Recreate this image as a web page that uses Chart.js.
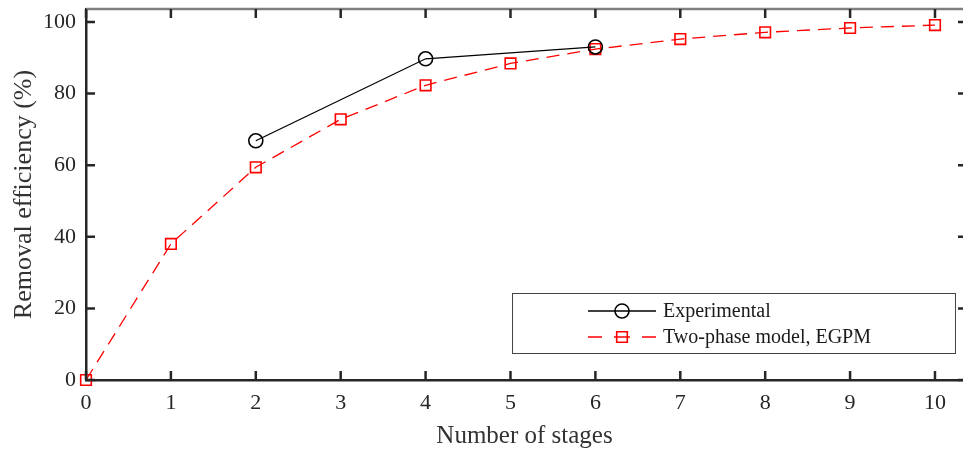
<!DOCTYPE html>
<html>
<head>
<meta charset="utf-8">
<script src="https://cdn.jsdelivr.net/npm/chart.js@4"></script>
<style>
  html, body { margin: 0; padding: 0; background: #fff; }
  #wrap { width: 963px; height: 451px; }
</style>
</head>
<body>
<div id="wrap"><canvas id="effChart" width="963" height="451"></canvas></div>
<script>
// stages and removal efficiencies
const expStages = [2, 4, 6];
const expValues = [66.8, 89.7, 93.0];
const modelStages = [0, 1, 2, 3, 4, 5, 6, 7, 8, 9, 10];
const modelValues = [0, 38.0, 59.4, 72.8, 82.3, 88.4, 92.4, 95.2, 97.1, 98.3, 99.1];
const xTicks = [0, 1, 2, 3, 4, 5, 6, 7, 8, 9, 10];
const yTicks = [0, 20, 40, 60, 80, 100];
const legendLabels = ['Experimental', 'Two-phase model, EGPM'];

const FONT = 'Liberation Serif, Times New Roman, serif';
const AXIS = '#262626';

function toPoints(xs, ys) {
    return xs.map((x, i) => ({ x: x, y: ys[i] }));
}

// inward ticks on all four sides + grey top line
const frameTicks = {
    id: 'frameTicks',
    afterDraw(chart) {
        const ctx = chart.ctx;
        const a = chart.chartArea;
        const xs = chart.scales.x, ys = chart.scales.y;
        const len = 9;
        ctx.save();
        ctx.strokeStyle = '#7f7f7f';
        ctx.lineWidth = 2.5;
        ctx.beginPath();
        ctx.moveTo(a.left, a.top);
        ctx.lineTo(a.right, a.top);
        ctx.stroke();

        ctx.strokeStyle = AXIS;
        ctx.lineWidth = 2.5;
        ctx.beginPath();
        xTicks.forEach((v) => {
            const px = xs.getPixelForValue(v);
            ctx.moveTo(px, a.bottom);
            ctx.lineTo(px, a.bottom - len);
            ctx.moveTo(px, a.top);
            ctx.lineTo(px, a.top + len);
        });
        yTicks.forEach((v) => {
            const py = ys.getPixelForValue(v);
            ctx.moveTo(a.left, py);
            ctx.lineTo(a.left + len, py);
            ctx.moveTo(a.right, py);
            ctx.lineTo(a.right - len + 4, py);
        });
        ctx.stroke();
        ctx.restore();
    }
};

// boxed legend inside the plot, lower right
const boxLegend = {
    id: 'boxLegend',
    afterDraw(chart) {
        const ctx = chart.ctx;
        const bx = 512, by = 293, bw = 443, bh = 60;
        ctx.save();
        ctx.fillStyle = '#fff';
        ctx.fillRect(bx, by, bw, bh);
        ctx.strokeStyle = '#444';
        ctx.lineWidth = 1;
        ctx.strokeRect(bx + 0.5, by + 0.5, bw, bh);

        const rows = [311, 337];
        chart.data.datasets.forEach((ds, i) => {
            const y = rows[i];
            ctx.strokeStyle = ds.borderColor;
            ctx.lineWidth = ds.borderWidth;
            ctx.beginPath();
            if (ds.borderDash) {
                ctx.moveTo(588, y); ctx.lineTo(602, y);
                ctx.moveTo(614, y); ctx.lineTo(630, y);
                ctx.moveTo(642, y); ctx.lineTo(656, y);
            } else {
                ctx.moveTo(588, y); ctx.lineTo(656, y);
            }
            ctx.stroke();
            ctx.lineWidth = ds.pointBorderWidth;
            ctx.strokeStyle = ds.pointBorderColor;
            ctx.fillStyle = 'rgba(0,0,0,0)';
            Chart.helpers.drawPoint(ctx, {
                pointStyle: ds.pointStyle,
                radius: ds.pointRadius,
                borderWidth: ds.pointBorderWidth
            }, 622, y);
            ctx.fillStyle = '#1a1a1a';
            ctx.font = '20px ' + FONT;
            ctx.textBaseline = 'middle';
            ctx.fillText(legendLabels[i], 663, y + 1);
        });
        ctx.restore();
    }
};

new Chart(document.getElementById('effChart'), {
    type: 'line',
    data: {
        datasets: [{
            label: legendLabels[0],
            data: toPoints(expStages, expValues),
            borderColor: '#000',
            borderWidth: 1.3,
            pointStyle: 'circle',
            pointRadius: 7,
            pointBorderWidth: 1.6,
            pointBorderColor: '#000',
            pointBackgroundColor: 'rgba(0,0,0,0)',
            fill: false,
            tension: 0,
            clip: false
        }, {
            label: legendLabels[1],
            data: toPoints(modelStages, modelValues),
            borderColor: '#ff0000',
            borderWidth: 1.3,
            borderDash: [13, 8],
            pointStyle: 'rect',
            pointRadius: 7.5,
            pointBorderWidth: 1.6,
            pointBorderColor: '#ff0000',
            pointBackgroundColor: 'rgba(0,0,0,0)',
            fill: false,
            tension: 0,
            clip: false
        }]
    },
    options: {
        responsive: false,
        animation: false,
        layout: {
            autoPadding: false,
            padding: { top: 9, right: 0, left: 0, bottom: 0 }
        },
        plugins: {
            legend: { display: false },
            tooltip: { enabled: false }
        },
        scales: {
            x: {
                type: 'linear',
                min: 0,
                max: 10.33,
                afterBuildTicks: (s) => { s.ticks = xTicks.map((v) => ({ value: v })); },
                afterFit: (s) => {
                    s.height = 71;
                    s.paddingLeft = 0;
                    s.paddingRight = 0;
                },
                grid: { display: false, drawTicks: false },
                border: { color: AXIS, width: 2.5 },
                ticks: {
                    padding: 10,
                    color: AXIS,
                    font: { family: FONT, size: 22 },
                    maxRotation: 0
                },
                title: {
                    display: true,
                    text: 'Number of stages',
                    color: '#333',
                    font: { family: FONT, size: 25 },
                    padding: { top: 1, bottom: 0 }
                }
            },
            y: {
                min: 0,
                max: 103.6,
                afterBuildTicks: (s) => { s.ticks = yTicks.map((v) => ({ value: v })); },
                afterFit: (s) => {
                    s.width = 86;
                    s.paddingTop = 0;
                    s.paddingBottom = 0;
                },
                grid: { display: false, drawTicks: false },
                border: { color: AXIS, width: 2.5 },
                ticks: {
                    padding: 10,
                    color: AXIS,
                    font: { family: FONT, size: 22 }
                },
                title: {
                    display: true,
                    text: 'Removal efficiency (%)',
                    color: '#333',
                    font: { family: FONT, size: 26 },
                    padding: { top: 9, bottom: 0 }
                }
            }
        }
    },
    plugins: [frameTicks, boxLegend]
});
</script>
</body>
</html>
